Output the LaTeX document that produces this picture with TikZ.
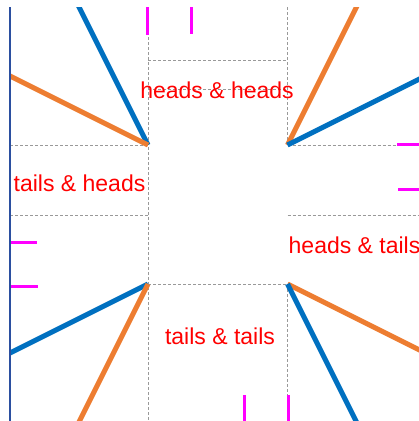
\documentclass[tikz,border=0pt]{standalone}
\usepackage{fontspec}
\setmainfont{Liberation Sans}
\definecolor{myblue}{HTML}{0070C0}
\definecolor{myorange}{HTML}{ED7D31}
\definecolor{axisblue}{HTML}{2B4FA0}
\definecolor{gridgray}{HTML}{999999}
\definecolor{mymagenta}{RGB}{255,0,255}
\begin{document}
\begin{tikzpicture}[x=1pt,y=-1pt,
  gridline/.style={draw=gridgray, dash pattern=on 3pt off 2pt, line width=0.9pt},
  tickmark/.style={draw=mymagenta, line width=3pt},
  blueline/.style={draw=myblue, line width=5pt},
  orangeline/.style={draw=myorange, line width=5pt},
  lbl/.style={text=red, font=\fontsize{23}{23}\selectfont, inner sep=0pt, anchor=base}]
\useasboundingbox (0,0) rectangle (419,421);
\coordinate (TL) at (148,145);
\coordinate (TR) at (287.5,145);
\coordinate (BL) at (148,284);
\coordinate (BR) at (287.5,284);
\begin{scope}
\clip (10,7) rectangle (419,421);
% grid
\draw[gridline] (148,7) -- (148,421);
\draw[gridline] (287.5,7) -- (TR);
\draw[gridline] (BR) -- (287.5,421);
\draw[gridline] (148,60) -- (287.5,60);
\draw[gridline] (148,89) -- (287.5,89);
\draw[gridline] (10,145) -- (TL);
\draw[gridline] (TR) -- (419,145);
\draw[gridline] (10,215) -- (148,215);
\draw[gridline] (287.5,215) -- (419,215);
\draw[gridline] (BL) -- (BR);
% ticks
\draw[tickmark] (147,7) -- (147,35);
\draw[tickmark] (191,7) -- (191,34);
\draw[tickmark] (397,144.5) -- (419,144.5);
\draw[tickmark] (398,189) -- (419,189);
\draw[tickmark] (10,242) -- (37,242);
\draw[tickmark] (10,286) -- (38,286);
\draw[tickmark] (244,395) -- (244,421);
\draw[tickmark] (288.5,395) -- (288.5,421);
% thick lines
\draw[blueline] (TL) -- ++(-100,-200);
\draw[orangeline] (TL) -- ++(-200,-100);
\draw[orangeline] (TR) -- ++(100,-200);
\draw[blueline] (TR) -- ++(200,-100);
\draw[blueline] (BL) -- ++(-200,100);
\draw[orangeline] (BL) -- ++(-100,200);
\draw[orangeline] (BR) -- ++(200,100);
\draw[blueline] (BR) -- ++(100,200);
\end{scope}
\draw[draw=axisblue, line width=1.3pt] (10,7) -- (10,421);
\node[lbl] (hh) at (217,98.3) {heads \& heads};
\node[lbl] (th) at (79.5,191.7) {tails \& heads};
\node[lbl, anchor=base west] (ht) at (288.5,253.3) {heads \& tails};
\node[lbl] (tt) at (220,344.3) {tails \& tails};
\end{tikzpicture}
\end{document}
